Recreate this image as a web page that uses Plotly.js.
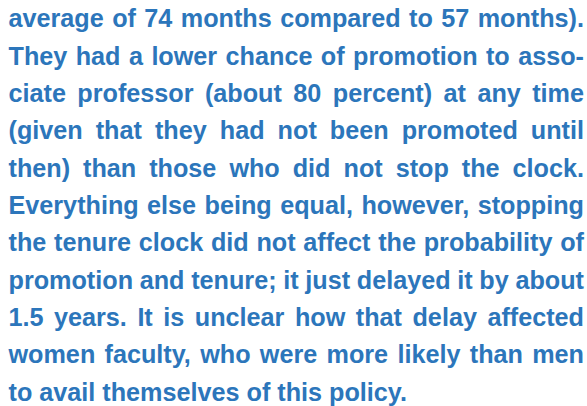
<!DOCTYPE html>
<html><head><meta charset="utf-8">
<script src="https://cdn.plot.ly/plotly-3.0.1.min.js"></script>
<style>html,body{margin:0;padding:0;background:#fff;overflow:hidden;}#chart{width:587px;height:406px;}</style>
</head><body><div id="chart"></div>
<script>
// Text lines of the paragraph (the content)
const lines = [
  "average of 74 months compared to 57 months).",
  "They had a lower chance of promotion to asso-",
  "ciate professor (about 80 percent) at any time",
  "(given that they had not been promoted until",
  "then) than those who did not stop the clock.",
  "Everything else being equal, however, stopping",
  "the tenure clock did not affect the probability of",
  "promotion and tenure; it just delayed it by about",
  "1.5 years. It is unclear how that delay affected",
  "women faculty, who were more likely than men",
  "to avail themselves of this policy."
];
// whether each line is justified (last line of paragraph is not)
const justified = [true, true, true, true, true, true, true, true, true, true, false];

// styling
const FONT_FAMILY = '"Liberation Sans", Arial, sans-serif';
const FONT_SIZE = 25.2;
const TEXT_COLOR = '#2c76bb';
const W = 587, H = 406;
const LEFT = 8.5, RIGHT = 584;
const BASE0 = 29.8, PITCH = 37.35;

const ctx = document.createElement('canvas').getContext('2d');
ctx.font = 'bold ' + FONT_SIZE + 'px "Liberation Sans"';
const spaceW = ctx.measureText(' ').width;

const xs = [], ys = [], texts = [];
lines.forEach((ln, i) => {
  const words = ln.split(' ');
  const widths = words.map(w => ctx.measureText(w).width);
  const total = widths.reduce((a, b) => a + b, 0);
  let gap = spaceW;
  if (justified[i] && words.length > 1) gap = (RIGHT - LEFT - total) / (words.length - 1);
  let x = LEFT;
  words.forEach((w, k) => {
    xs.push(x); ys.push(i); texts.push(w);
    x += widths[k] + gap;
  });
});

// map line index -> pixel: text middle sits about 0.35em above baseline
const mid0 = BASE0 - 0.35 * FONT_SIZE;
const yTop = (0 - mid0) / PITCH, yBot = (H - mid0) / PITCH;

Plotly.newPlot('chart', [{
  type: 'scatter', mode: 'text', x: xs, y: ys, text: texts,
  textposition: 'middle right', cliponaxis: false, hoverinfo: 'skip',
  textfont: {family: FONT_FAMILY, size: FONT_SIZE, color: TEXT_COLOR, weight: 700}
}], {
  width: W, height: H, margin: {l: 0, r: 0, t: 0, b: 0, pad: 0},
  paper_bgcolor: '#ffffff', plot_bgcolor: '#ffffff', showlegend: false,
  xaxis: {range: [0, W], visible: false, fixedrange: true},
  yaxis: {range: [yBot, yTop], visible: false, fixedrange: true},
  hovermode: false
}, {staticPlot: true, displayModeBar: false});
</script>
</body></html>
